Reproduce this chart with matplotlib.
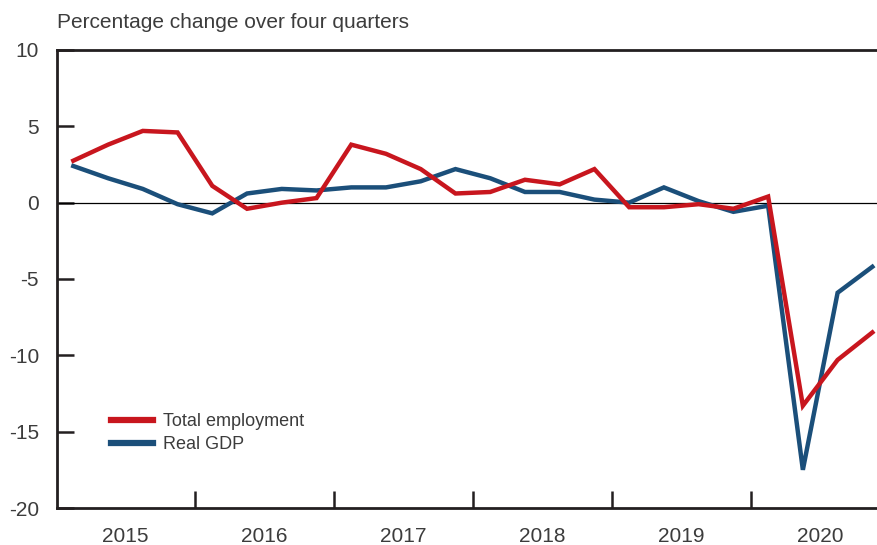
import matplotlib
matplotlib.use("Agg")
import matplotlib.pyplot as plt
from matplotlib.lines import Line2D

quarters = list(range(24))
years = ["2015", "2016", "2017", "2018", "2019", "2020"]
employment = [2.75, 3.8, 4.7, 4.6, 1.1, -0.4, 0.0, 0.3,
              3.8, 3.2, 2.2, 0.6, 0.7, 1.5, 1.2, 2.2,
              -0.3, -0.3, -0.1, -0.4, 0.4, -13.3, -10.3, -8.5]
gdp = [2.4, 1.6, 0.9, -0.1, -0.7, 0.6, 0.9, 0.8,
       1.0, 1.0, 1.4, 2.2, 1.6, 0.7, 0.7, 0.2,
       0.0, 1.0, 0.1, -0.6, -0.2, -17.5, -5.9, -4.2]
yticks = [10, 5, 0, -5, -10, -15, -20]

plt.rcParams['font.family'] = ['Liberation Sans', 'DejaVu Sans']
txt = '#3c3c3c'
dark = '#231f20'
red = '#c8161e'
blue = '#1b4f7a'

fig = plt.figure(figsize=(8.78, 5.45), dpi=100)
W, H = 878, 545
ax = fig.add_axes([57 / W, (H - 508) / H, (880 - 57) / W, (508 - 50) / H])

ax.plot(quarters, gdp, color=blue, lw=3.2, solid_joinstyle='miter', zorder=3)
ax.plot(quarters, employment, color=red, lw=3.2, solid_joinstyle='miter', zorder=4)
ax.axhline(0, color='black', lw=0.9, zorder=2)

x0 = -0.47
ax.set_xlim(x0, x0 + (880 - 57) / 34.74)
ax.set_ylim(-20, 10)

ax.spines['right'].set_visible(False)
for s in ['left', 'top', 'bottom']:
    ax.spines[s].set_color(dark)
    ax.spines[s].set_linewidth(2)

ax.set_yticks(yticks)
ax.set_yticklabels([str(v) for v in yticks])
ax.tick_params(axis='y', direction='in', length=12, width=1.8, color=dark,
               labelsize=15, labelcolor=txt, pad=13)

ax.set_xticks([3.5 + 4 * i for i in range(5)])
ax.set_xticklabels([])
ax.tick_params(axis='x', direction='in', length=12, width=1.8, color=dark)
for i, y in enumerate(years):
    ax.text(1.5 + 4 * i, -0.042, y, transform=ax.get_xaxis_transform(),
            ha='center', va='top', fontsize=15, color=txt)

fig.text(57 / W, (H - 22) / H, "Percentage change over four quarters",
         ha='left', va='center', fontsize=15, color=txt)

handles = [Line2D([], [], color=red, lw=4.5), Line2D([], [], color=blue, lw=4.5)]
leg = ax.legend(handles, ["Total employment", "Real GDP"], loc='upper left',
                bbox_to_anchor=((111 - 57) / (880 - 57), (508 - 413) / (508 - 50)),
                frameon=False, fontsize=13, handlelength=2.3, handletextpad=0.6,
                labelspacing=0.35, borderaxespad=0, borderpad=0)
for t in leg.get_texts():
    t.set_color(txt)

fig.savefig("out.png", dpi=100)
